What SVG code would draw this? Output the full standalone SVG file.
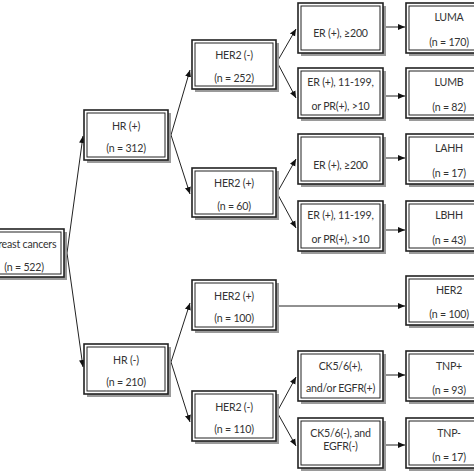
<svg xmlns="http://www.w3.org/2000/svg" width="474" height="474" viewBox="0 0 474 474">
<defs>
<marker id="ah" markerWidth="8" markerHeight="8" refX="7" refY="4" orient="auto" markerUnits="userSpaceOnUse">
<path d="M0,1 L7,4 L0,7 Z" fill="#111"/>
</marker>
</defs>
<style>
.sh{fill:#9a9a9a}
.bx{fill:#fff;stroke:#222;stroke-width:1.6}
.in{fill:none;stroke:#222;stroke-width:1}
.t{font-family:Lato,"Liberation Sans",sans-serif;font-size:10.6px;letter-spacing:-0.2px;fill:#333;text-anchor:middle}
.c{fill:none;stroke:#222;stroke-width:1;marker-end:url(#ah)}
</style>
<rect width="474" height="474" fill="#fff"/>
<g id="connectors">
<path class="c" d="M67,253 L83,136"/>
<path class="c" d="M67,253 L83,367"/>
<path class="c" d="M171,135 L190,70"/>
<path class="c" d="M171,135 L190,194"/>
<path class="c" d="M171,362 L190,303"/>
<path class="c" d="M171,362 L190,422"/>
<path class="c" d="M277,62 L296,29"/>
<path class="c" d="M277,62 L296,98"/>
<path class="c" d="M277,193 L296,159"/>
<path class="c" d="M277,193 L296,228"/>
<path class="c" d="M277,306 L405,306"/>
<path class="c" d="M277,412 L296,377"/>
<path class="c" d="M277,412 L296,446"/>
<path class="c" d="M384,27 L405,27"/>
<path class="c" d="M384,96 L405,96"/>
<path class="c" d="M384,158 L405,158"/>
<path class="c" d="M384,230 L405,230"/>
<path class="c" d="M384,375 L405,375"/>
<path class="c" d="M384,445 L405,445"/>
</g>
<g id="root">
<rect class="sh" x="-17" y="232" width="84" height="48"/>
<rect class="bx" x="-20" y="229" width="84" height="48"/>
<rect class="in" x="-17" y="232" width="78" height="42"/>
<text class="t" x="24" y="248">Breast cancers</text>
<text class="t" x="24" y="271">(n = 522)</text>
</g>
<g id="hrpos">
<rect class="sh" x="87" y="113" width="84" height="50"/>
<rect class="bx" x="84" y="110" width="84" height="50"/>
<rect class="in" x="87" y="113" width="78" height="44"/>
<text class="t" x="126" y="130">HR (+)</text>
<text class="t" x="126" y="152">(n = 312)</text>
</g>
<g id="hrneg">
<rect class="sh" x="87" y="347" width="84" height="50"/>
<rect class="bx" x="84" y="344" width="84" height="50"/>
<rect class="in" x="87" y="347" width="78" height="44"/>
<text class="t" x="126" y="364">HR (-)</text>
<text class="t" x="126" y="386">(n = 210)</text>
</g>
<g id="her2neg1">
<rect class="sh" x="195" y="43" width="84" height="49"/>
<rect class="bx" x="192" y="40" width="84" height="49"/>
<rect class="in" x="195" y="43" width="78" height="43"/>
<text class="t" x="234" y="59">HER2 (-)</text>
<text class="t" x="234" y="82">(n = 252)</text>
</g>
<g id="her2pos1">
<rect class="sh" x="195" y="171" width="84" height="49"/>
<rect class="bx" x="192" y="168" width="84" height="49"/>
<rect class="in" x="195" y="171" width="78" height="43"/>
<text class="t" x="234" y="187">HER2 (+)</text>
<text class="t" x="234" y="210">(n = 60)</text>
</g>
<g id="her2pos2">
<rect class="sh" x="195" y="283" width="84" height="50"/>
<rect class="bx" x="192" y="280" width="84" height="50"/>
<rect class="in" x="195" y="283" width="78" height="44"/>
<text class="t" x="234" y="300">HER2 (+)</text>
<text class="t" x="234" y="322">(n = 100)</text>
</g>
<g id="her2neg2">
<rect class="sh" x="195" y="394" width="84" height="50"/>
<rect class="bx" x="192" y="391" width="84" height="50"/>
<rect class="in" x="195" y="394" width="78" height="44"/>
<text class="t" x="234" y="411">HER2 (-)</text>
<text class="t" x="234" y="433">(n = 110)</text>
</g>
<g id="er200a">
<rect class="sh" x="301" y="6" width="85" height="50"/>
<rect class="bx" x="298" y="3" width="85" height="50"/>
<rect class="in" x="301" y="6" width="79" height="44"/>
<text class="t" x="340.5" y="37">ER (+), ≥200</text>
</g>
<g id="er11a">
<rect class="sh" x="301" y="71" width="85" height="50"/>
<rect class="bx" x="298" y="68" width="85" height="50"/>
<rect class="in" x="301" y="71" width="79" height="44"/>
<text class="t" x="340.5" y="86">ER (+), 11-199,</text>
<text class="t" x="340.5" y="110">or PR(+), &gt;10</text>
</g>
<g id="er200b">
<rect class="sh" x="301" y="137" width="85" height="50"/>
<rect class="bx" x="298" y="134" width="85" height="50"/>
<rect class="in" x="301" y="137" width="79" height="44"/>
<text class="t" x="340.5" y="169">ER (+), ≥200</text>
</g>
<g id="er11b">
<rect class="sh" x="301" y="204" width="85" height="50"/>
<rect class="bx" x="298" y="201" width="85" height="50"/>
<rect class="in" x="301" y="204" width="79" height="44"/>
<text class="t" x="340.5" y="219">ER (+), 11-199,</text>
<text class="t" x="340.5" y="243">or PR(+), &gt;10</text>
</g>
<g id="ckpos">
<rect class="sh" x="301" y="354" width="85" height="50"/>
<rect class="bx" x="298" y="351" width="85" height="50"/>
<rect class="in" x="301" y="354" width="79" height="44"/>
<text class="t" x="340.5" y="370">CK5/6(+),</text>
<text class="t" x="340.5" y="392">and/or EGFR(+)</text>
</g>
<g id="ckneg">
<rect class="sh" x="301" y="421" width="85" height="50"/>
<rect class="bx" x="298" y="418" width="85" height="50"/>
<rect class="in" x="301" y="421" width="79" height="44"/>
<text class="t" x="340.5" y="437">CK5/6(-), and</text>
<text class="t" x="340.5" y="450">EGFR(-)</text>
</g>
<g id="luma">
<rect class="sh" x="409" y="6" width="86" height="50"/>
<rect class="bx" x="406" y="3" width="86" height="50"/>
<rect class="in" x="409" y="6" width="80" height="44"/>
<text class="t" x="449" y="21">LUMA</text>
<text class="t" x="449" y="46">(n = 170)</text>
</g>
<g id="lumb">
<rect class="sh" x="409" y="71" width="86" height="50"/>
<rect class="bx" x="406" y="68" width="86" height="50"/>
<rect class="in" x="409" y="71" width="80" height="44"/>
<text class="t" x="449" y="86">LUMB</text>
<text class="t" x="449" y="111">(n = 82)</text>
</g>
<g id="lahh">
<rect class="sh" x="409" y="137" width="86" height="50"/>
<rect class="bx" x="406" y="134" width="86" height="50"/>
<rect class="in" x="409" y="137" width="80" height="44"/>
<text class="t" x="449" y="152">LAHH</text>
<text class="t" x="449" y="177">(n = 17)</text>
</g>
<g id="lbhh">
<rect class="sh" x="409" y="204" width="86" height="50"/>
<rect class="bx" x="406" y="201" width="86" height="50"/>
<rect class="in" x="409" y="204" width="80" height="44"/>
<text class="t" x="449" y="219">LBHH</text>
<text class="t" x="449" y="244">(n = 43)</text>
</g>
<g id="her2">
<rect class="sh" x="409" y="279" width="86" height="49"/>
<rect class="bx" x="406" y="276" width="86" height="49"/>
<rect class="in" x="409" y="279" width="80" height="43"/>
<text class="t" x="449" y="294">HER2</text>
<text class="t" x="449" y="318">(n = 100)</text>
</g>
<g id="tnppos">
<rect class="sh" x="409" y="354" width="86" height="50"/>
<rect class="bx" x="406" y="351" width="86" height="50"/>
<rect class="in" x="409" y="354" width="80" height="44"/>
<text class="t" x="449" y="370">TNP+</text>
<text class="t" x="449" y="394">(n = 93)</text>
</g>
<g id="tnpneg">
<rect class="sh" x="409" y="421" width="86" height="50"/>
<rect class="bx" x="406" y="418" width="86" height="50"/>
<rect class="in" x="409" y="421" width="80" height="44"/>
<text class="t" x="449" y="437">TNP-</text>
<text class="t" x="449" y="461">(n = 17)</text>
</g>
</svg>
